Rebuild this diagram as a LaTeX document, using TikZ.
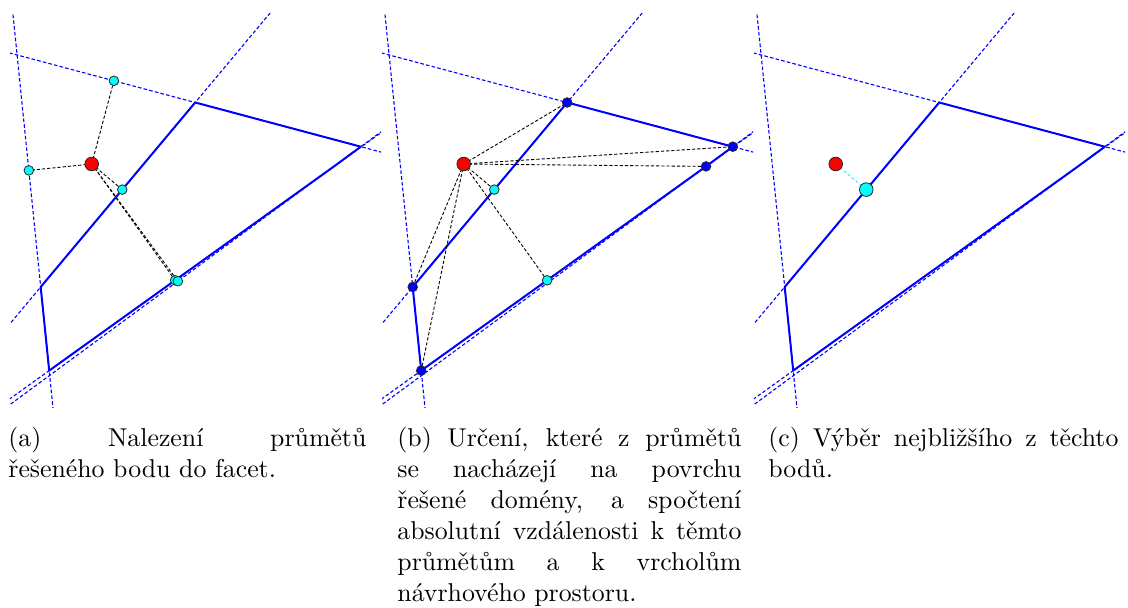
\documentclass[tikz,border=0pt]{standalone}
\usepackage{fontspec}
\setmainfont{lmroman10-regular.otf}
\usetikzlibrary{calc}

\definecolor{ptcyan}{RGB}{0,255,255}
\definecolor{ptblue}{RGB}{0,0,255}
\definecolor{ptred}{RGB}{255,0,0}

\tikzset{
  facet/.style={ptblue, line width=0.55pt, dash pattern=on 1.8pt off 1.1pt},
  edgeline/.style={ptblue, line width=1pt, line join=round},
  conn/.style={black, line width=0.45pt, dash pattern=on 1.6pt off 1pt},
  nearconn/.style={ptcyan, line width=0.45pt, dash pattern=on 1.6pt off 1pt},
  dotbase/.style={circle, draw=black!85, line width=0.4pt, inner sep=0pt},
  redpt/.style={dotbase, fill=ptred, minimum size=6.8pt},
  cyanpt/.style={dotbase, fill=ptcyan, minimum size=4.8pt},
  bigcyanpt/.style={dotbase, fill=ptcyan, minimum size=6.8pt},
  bluept/.style={dotbase, fill=ptblue, minimum size=4.8pt},
  captext/.style={anchor=north west, inner sep=0pt, align=justify,
    font={\fontsize{12.9}{15.5}\selectfont\tolerance=9999\hbadness=10000}},
}

\newcommand\drawdomain[1]{%
  \coordinate (#1P) at (91.7,164);
  \coordinate (#1A) at (40.7,287);
  \coordinate (#1B) at (195.2,102.5);
  \coordinate (#1C) at (360.8,146.7);
  \coordinate (#1D) at (334,166.4);
  \coordinate (#1E) at (49.2,370.6);
  \begin{scope}
    \clip (10,14) rectangle (381,408);
    \draw[facet] ($(#1A)!-4!(#1B)$) -- ($(#1A)!5!(#1B)$);
    \draw[facet] ($(#1B)!-4!(#1C)$) -- ($(#1B)!5!(#1C)$);
    \draw[facet] ($(#1C)!-20!(#1D)$) -- ($(#1C)!20!(#1D)$);
    \draw[facet] ($(#1D)!-4!(#1E)$) -- ($(#1D)!5!(#1E)$);
    \draw[facet] ($(#1E)!-6!(#1A)$) -- ($(#1E)!6!(#1A)$);
  \end{scope}
  \draw[edgeline] (#1A) -- (#1B) -- (#1C) -- (#1D) -- (#1E) -- cycle;
  \coordinate (#1pAB) at ($(#1A)!(#1P)!(#1B)$);
  \coordinate (#1pBC) at ($(#1B)!(#1P)!(#1C)$);
  \coordinate (#1pCD) at ($(#1C)!(#1P)!(#1D)$);
  \coordinate (#1pDE) at ($(#1D)!(#1P)!(#1E)$);
  \coordinate (#1pEA) at ($(#1E)!(#1P)!(#1A)$);
}

\begin{document}
\begin{tikzpicture}[x=0.5pt, y=-0.5pt]
\useasboundingbox (0,0) rectangle (1128,608);

% ---------- panel (a)
\begin{scope}
  \drawdomain{a}
  \draw[conn] (aP) -- (apAB);
  \draw[conn] (aP) -- (apBC);
  \draw[conn] (aP) -- (apCD);
  \draw[conn] (aP) -- (apDE);
  \draw[conn] (aP) -- (apEA);
  \node[cyanpt] (aqAB) at (apAB) {};
  \node[cyanpt] (aqBC) at (apBC) {};
  \node[cyanpt] (aqDE) at (apDE) {};
  \node[cyanpt] (aqCD) at (apCD) {};
  \node[cyanpt] (aqEA) at (apEA) {};
  \node[redpt] (aQ) at (aP) {};
\end{scope}

% ---------- panel (b)
\begin{scope}[xshift=186pt]
  \drawdomain{b}
  \draw[conn] (bP) -- (bA);
  \draw[conn] (bP) -- (bB);
  \draw[conn] (bP) -- (bC);
  \draw[conn] (bP) -- (bD);
  \draw[conn] (bP) -- (bE);
  \draw[conn] (bP) -- (bpAB);
  \draw[conn] (bP) -- (bpDE);
  \node[cyanpt] (bqAB) at (bpAB) {};
  \node[cyanpt] (bqDE) at (bpDE) {};
  \node[bluept] (bvA) at (bA) {};
  \node[bluept] (bvB) at (bB) {};
  \node[bluept] (bvC) at (bC) {};
  \node[bluept] (bvD) at (bD) {};
  \node[bluept] (bvE) at (bE) {};
  \node[redpt] (bQ) at (bP) {};
\end{scope}

% ---------- panel (c)
\begin{scope}[xshift=372pt]
  \drawdomain{c}
  \draw[nearconn] (cP) -- (cpAB);
  \node[bigcyanpt] (cqAB) at (cpAB) {};
  \node[redpt] (cQ) at (cP) {};
\end{scope}

% ---------- captions
\node[captext, text width=179pt] (capa) at (8,427)
  {(a) Nalezení průmětů\linebreak řešeného bodu do facet.};
\node[captext, text width=172pt] (capb) at (397,427)
  {(b) Určení, které z průmětů\linebreak se nacházejí na povrchu\linebreak řešené domény, a spočtení\linebreak absolutní vzdálenosti k těmto\linebreak průmětům a k vrcholům\linebreak návrhového prostoru.};
\node[captext, text width=175pt] (capc) at (768,427)
  {(c) Výběr nejbližšího z těchto\linebreak bodů.};
\end{tikzpicture}
\end{document}
